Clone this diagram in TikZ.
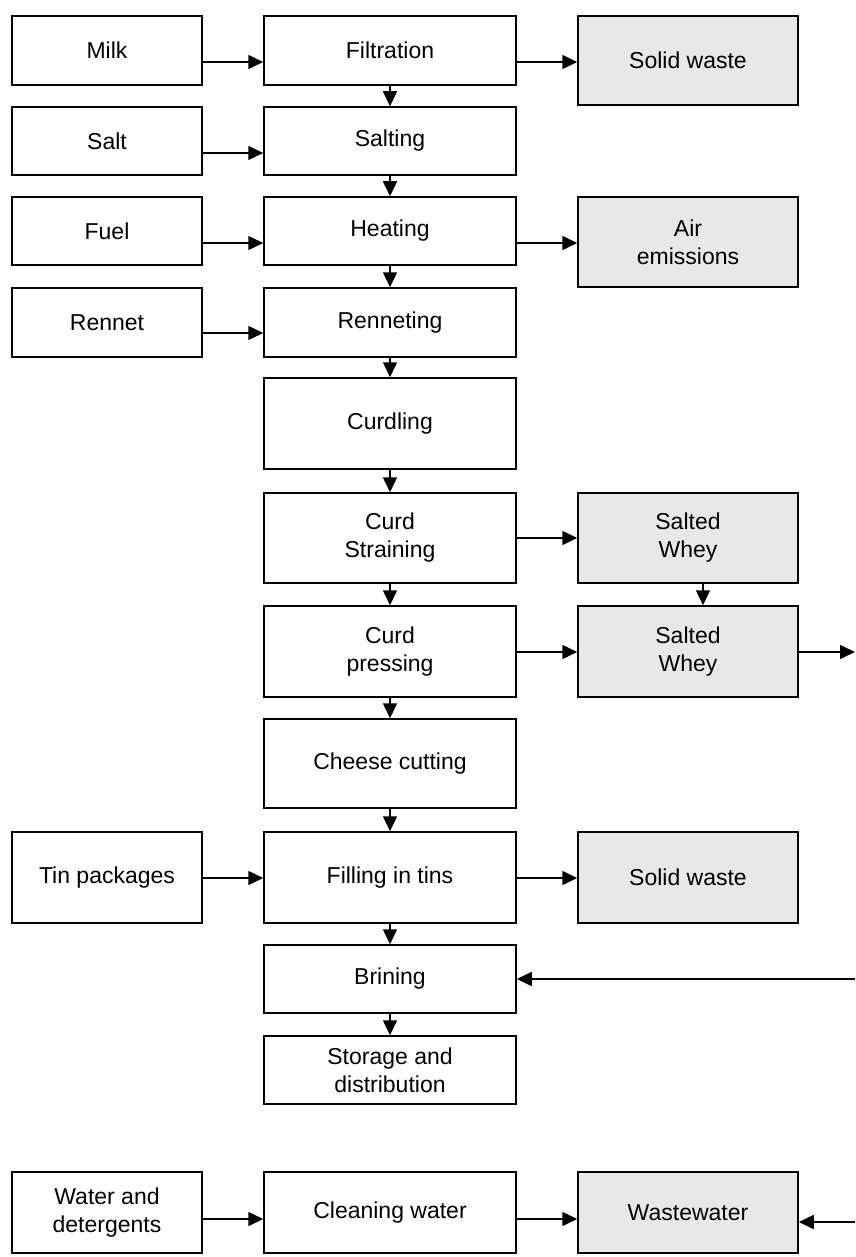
\documentclass[tikz,border=0pt]{standalone}
\usepackage{fontspec}
\setmainfont{Liberation Sans}
\usetikzlibrary{arrows.meta}
\definecolor{wastefill}{RGB}{232,232,232}
\tikzset{
  box/.style={draw=black, line width=1.5pt, align=center, inner sep=0pt,
    font=\fontsize{23}{28}\selectfont},
  lbox/.style={box, minimum width=190pt},
  mbox/.style={box, minimum width=252pt},
  rbox/.style={box, minimum width=220pt, fill=wastefill},
  arr/.style={line width=1.5pt, -{Triangle[length=15pt,width=14pt]}},
}
\begin{document}
\begin{tikzpicture}[x=1pt,y=-1pt]
\useasboundingbox[fill=white] (0,0) rectangle (855,1257);

% input column
\node[lbox, minimum height=69pt] (milk)   at (107,50.5)  {Milk};
\node[lbox, minimum height=68pt] (salt)   at (107,141)   {Salt};
\node[lbox, minimum height=68pt] (fuel)   at (107,231)   {Fuel};
\node[lbox, minimum height=69pt] (rennet) at (107,322.5) {Rennet};
\node[lbox, minimum height=91pt] (tins)   at (107,877.5) {Tin packages};
\node[lbox, minimum height=81pt] (water)  at (107,1212.5){Water and\\detergents};

% process column
\node[mbox, minimum height=69pt] (filt)   at (390,50.5)  {Filtration};
\node[mbox, minimum height=68pt] (salting) at (390,141)  {Salting};
\node[mbox, minimum height=68pt] (heat)   at (390,231)   {Heating};
\node[mbox, minimum height=69pt] (renn)   at (390,322.5) {Renneting};
\node[mbox, minimum height=91pt] (curd)   at (390,423.5) {Curdling};
\node[mbox, minimum height=90pt] (strain) at (390,538)   {Curd\\Straining};
\node[mbox, minimum height=91pt] (press)  at (390,651.5) {Curd\\pressing};
\node[mbox, minimum height=89pt] (cut)    at (390,763.5) {Cheese cutting};
\node[mbox, minimum height=91pt] (fill)   at (390,877.5) {Filling in tins};
\node[mbox, minimum height=68pt] (brine)  at (390,979)   {Brining};
\node[mbox, minimum height=68pt] (store)  at (390,1070)  {Storage and\\distribution};
\node[mbox, minimum height=81pt] (clean)  at (390,1212.5){Cleaning water};

% output column
\node[rbox, minimum height=89pt] (solid1) at (688,60.5)  {Solid waste};
\node[rbox, minimum height=90pt] (air)    at (688,242)   {Air\\emissions};
\node[rbox, minimum height=90pt] (whey1)  at (688,538)   {Salted\\Whey};
\node[rbox, minimum height=91pt] (whey2)  at (688,651.5) {Salted\\Whey};
\node[rbox, minimum height=91pt] (solid2) at (688,877.5) {Solid waste};
\node[rbox, minimum height=81pt] (waste)  at (688,1212.5){Wastewater};

% free ends at the right margin
\coordinate (wheyout) at (855,652);
\coordinate (brinein) at (855,979);
\coordinate (wastein) at (855,1222);

% inputs
\draw[arr] ([yshift=-11.5pt]milk.east)   -- ([yshift=-11.5pt]filt.west);
\draw[arr] ([yshift=-12pt]salt.east)     -- ([yshift=-12pt]salting.west);
\draw[arr] ([yshift=-12pt]fuel.east)     -- ([yshift=-12pt]heat.west);
\draw[arr] ([yshift=-10.5pt]rennet.east) -- ([yshift=-10.5pt]renn.west);
\draw[arr] ([yshift=-0.5pt]tins.east)    -- ([yshift=-0.5pt]fill.west);
\draw[arr] ([yshift=-6.5pt]water.east)   -- ([yshift=-6.5pt]clean.west);

% outputs
\draw[arr] ([yshift=-11.5pt]filt.east)   -- ([yshift=-1.5pt]solid1.west);
\draw[arr] ([yshift=-12pt]heat.east)     -- ([yshift=-1pt]air.west);
\draw[arr] (strain.east) -- (whey1.west);
\draw[arr] ([yshift=-0.5pt]press.east)   -- ([yshift=-0.5pt]whey2.west);
\draw[arr] ([yshift=-0.5pt]fill.east)    -- ([yshift=-0.5pt]solid2.west);
\draw[arr] ([yshift=-6.5pt]clean.east)   -- ([yshift=-6.5pt]waste.west);
\draw[arr] ([xshift=15pt]whey1.south) -- ([xshift=15pt]whey2.north);
\draw[arr] (whey2.east |- wheyout) -- (wheyout);
\draw[arr] (brinein) -- (brine.east |- brinein);
\draw[arr] (wastein) -- (waste.east |- wastein);

% main line
\draw[arr] (filt.south)    -- (salting.north);
\draw[arr] (salting.south) -- (heat.north);
\draw[arr] (heat.south)    -- (renn.north);
\draw[arr] (renn.south)    -- (curd.north);
\draw[arr] (curd.south)    -- (strain.north);
\draw[arr] (strain.south)  -- (press.north);
\draw[arr] (press.south)   -- (cut.north);
\draw[arr] (cut.south)     -- (fill.north);
\draw[arr] (fill.south)    -- (brine.north);
\draw[arr] (brine.south)   -- (store.north);
\end{tikzpicture}
\end{document}
